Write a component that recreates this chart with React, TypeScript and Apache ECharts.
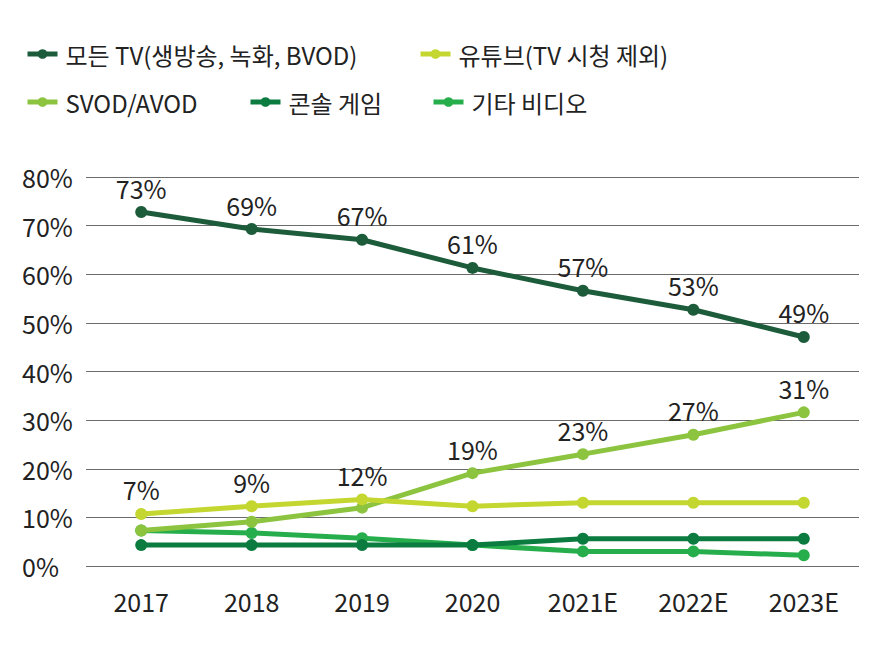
import React, { useEffect, useRef } from "react";
import * as echarts from "echarts";

const categories = ["2017", "2018", "2019", "2020", "2021E", "2022E", "2023E"];
const seriesNames = [
  "모든 TV(생방송, 녹화, BVOD)",
  "유튜브(TV 시청 제외)",
  "SVOD/AVOD",
  "콘솔 게임",
  "기타 비디오",
];
const tvValues = [72.8, 69.3, 67.1, 61.3, 56.6, 52.7, 47.1];
const tvLabels = ["73%", "69%", "67%", "61%", "57%", "53%", "49%"];
const youtubeValues = [10.7, 12.3, 13.7, 12.3, 13.0, 13.0, 13.0];
const svodValues = [7.3, 9.1, 12.0, 19.1, 23.0, 27.0, 31.6];
const svodLabels = ["7%", "9%", "12%", "19%", "23%", "27%", "31%"];
const consoleValues = [4.3, 4.3, 4.3, 4.3, 5.6, 5.6, 5.6];
const otherValues = [7.3, 6.8, 5.7, 4.3, 3.0, 3.0, 2.2];
const yTicks = [0, 10, 20, 30, 40, 50, 60, 70, 80];

const colors = ["#1d5c3b", "#c4d630", "#8cc43f", "#0b7b40", "#27ae4c"];
const FONT = "'Noto Sans CJK KR', 'Noto Sans', sans-serif";
const TEXT = "#222222";

export default function App() {
  const ref = useRef<HTMLDivElement>(null);
  useEffect(() => {
    if (!ref.current) return;
    const chart = echarts.init(ref.current, undefined, { renderer: "svg" });
    const values = [tvValues, youtubeValues, svodValues, consoleValues, otherValues];
    const labels: (string[] | null)[] = [tvLabels, null, svodLabels, null, null];
    const legendPos = [
      { left: 20, top: 37 },
      { left: 413, top: 37 },
      { left: 20, top: 85 },
      { left: 243, top: 85 },
      { left: 426, top: 85 },
    ];
    const labelCfg = (i: number) =>
      labels[i]
        ? {
            show: true,
            position: "top",
            distance: 6,
            fontFamily: FONT,
            fontSize: 25,
            color: TEXT,
            formatter: (p: any) => (labels[i] as string[])[p.dataIndex],
          }
        : { show: false };
    const series = seriesNames.map((name, i) => ({
      name,
      type: "line",
      data: values[i].map((v) => ({ value: v })),
      symbol: "circle",
      symbolSize: 12,
      z: 10 - i,
      lineStyle: { width: 5, color: colors[i] },
      itemStyle: { color: colors[i] },
      label: labelCfg(i),
    }));
    chart.setOption({
      animation: false,
      color: colors,
      textStyle: { fontFamily: FONT },
      legend: seriesNames.map((name, i) => ({
        data: [name],
        left: legendPos[i].left,
        top: legendPos[i].top,
        itemWidth: 30,
        itemHeight: 12,
        itemGap: 8,
        lineStyle: { width: 5 },
        textStyle: { fontFamily: FONT, fontSize: 24, color: TEXT, padding: [0, 0, 0, 3] },
        selectedMode: false,
      })),
      grid: { left: 86, right: 16, top: 177, bottom: 89, containLabel: false },
      xAxis: {
        type: "category",
        data: categories,
        boundaryGap: true,
        axisLine: { show: false },
        axisTick: { show: false },
        axisLabel: { fontFamily: FONT, fontSize: 25, color: TEXT, margin: 22 },
      },
      yAxis: {
        type: "value",
        min: yTicks[0],
        max: yTicks[yTicks.length - 1],
        interval: 10,
        axisLine: { show: false },
        axisTick: { show: false },
        axisLabel: {
          fontFamily: FONT,
          fontSize: 25,
          color: TEXT,
          align: "left",
          margin: 64,
          formatter: (v: number) => `${v}%`,
        },
        splitLine: { lineStyle: { color: "#6b6b6b", width: 1 } },
      },
      series,
    });
    // Lift SVOD labels above the YouTube line where that line is higher
    const svodIdx = 2;
    const svodData = svodValues.map((v, k) => {
      const top = Math.max(v, youtubeValues[k]);
      const pv = chart.convertToPixel({ gridIndex: 0 }, [k, v]) as number[];
      const pt = chart.convertToPixel({ gridIndex: 0 }, [k, top]) as number[];
      const lift = pv[1] - pt[1];
      return { value: v, label: { offset: [0, -lift] } };
    });
    const newSeries = series.map((s, i) => (i === svodIdx ? { ...s, data: svodData } : s));
    chart.setOption({ series: newSeries });
    return () => chart.dispose();
  }, []);
  return <div ref={ref} style={{ width: 875, height: 655, position: "absolute", left: 0, top: 0, background: "#fff" }} />;
}
